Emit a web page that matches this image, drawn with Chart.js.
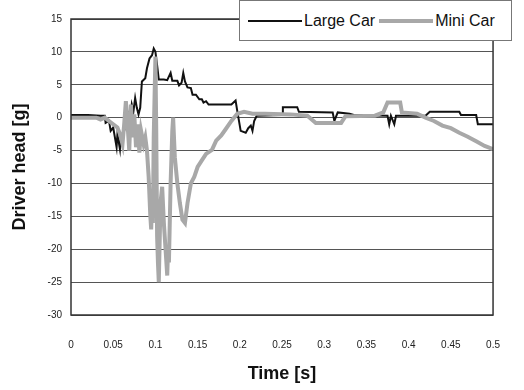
<!DOCTYPE html>
<html>
<head>
<meta charset="utf-8">
<script src="https://cdn.jsdelivr.net/npm/chart.js@4"></script>
<style>
    body { margin: 0; background: #fff; }
    #wrap { position: relative; width: 524px; height: 390px; }
    #legend {
        position: absolute; left: 239px; top: 0; width: 273px; height: 41px;
        background: #fff; border: 1px solid #777; box-sizing: border-box;
        display: flex; align-items: center; padding-left: 8px;
        font-family: "Liberation Sans", Arial, sans-serif;
        font-size: 16px; color: #111;
    }
    #legend .item { display: flex; align-items: center; margin-right: 4px; }
    #legend .swatch { display: inline-block; width: 54px; margin-right: 2px; }
</style>
</head>
<body>
<div id="wrap">
    <canvas id="lineChart" width="524" height="390"></canvas>
    <div id="legend"></div>
</div>
<script>
// Large car driver head acceleration
var largeT = [0, 0.02, 0.035, 0.04, 0.041, 0.045, 0.047, 0.05, 0.052, 0.054, 0.055, 0.058, 0.059, 0.062,
    0.065, 0.068, 0.07, 0.072, 0.074, 0.076, 0.078, 0.08, 0.082, 0.084, 0.088, 0.09, 0.093, 0.096, 0.098,
    0.1, 0.102, 0.104, 0.11, 0.114, 0.118, 0.12, 0.126, 0.128, 0.131, 0.133, 0.135, 0.138, 0.142, 0.144,
    0.148, 0.152, 0.155, 0.157, 0.16, 0.163, 0.19, 0.195, 0.197, 0.199, 0.201, 0.207, 0.21, 0.213, 0.215,
    0.217, 0.22, 0.25, 0.251, 0.268, 0.27, 0.31, 0.312, 0.316, 0.33, 0.335, 0.375, 0.377, 0.379, 0.383,
    0.385, 0.42, 0.425, 0.46, 0.462, 0.48, 0.482, 0.5];
var largeG = [0.4, 0.4, 0.3, 0.3, -0.8, -0.5, -2, -1.5, -3, -4.5, -2.5, -4.8, -3, -2.5,
    -1, 0.5, -0.5, 2, 1, 3, 1.5, 0.5, 1.5, 5.5, 6, 7.5, 9, 9.5, 10.5,
    10, 8, 5.8, 5.8, 5.7, 6.8, 5.6, 5.6, 4.9, 5.3, 6.8, 5.5, 4.6, 4.5, 3.5,
    3.5, 2.8, 2.8, 2.3, 2.5, 2.0, 2.0, 2.6, 1.0, -0.5, -2, -2.3, -1.6, -1.2, -2,
    -0.5, 0.3, 0.4, 1.6, 1.6, 0.9, 0.8, -0.5, 0.8, 0.6, 0.4, 0.3, -1, 0.3, -1,
    0.3, 0.3, 0.9, 0.9, 0.4, 0.4, -1, -1];

// Mini car driver head acceleration
var miniT = [0, 0.03, 0.035, 0.04, 0.045, 0.05, 0.055, 0.058, 0.061, 0.063, 0.065, 0.067, 0.069, 0.071,
    0.073, 0.075, 0.077, 0.079, 0.081, 0.083, 0.086, 0.088, 0.09, 0.092, 0.094, 0.095, 0.096, 0.097,
    0.098, 0.1, 0.101, 0.102, 0.103, 0.104, 0.105, 0.106, 0.108, 0.11, 0.112, 0.114, 0.115, 0.116,
    0.118, 0.12, 0.121, 0.123, 0.126, 0.129, 0.132, 0.135, 0.138, 0.142, 0.146, 0.15,
    0.155, 0.16, 0.167, 0.172, 0.178, 0.183, 0.19, 0.197, 0.205, 0.215, 0.23, 0.26, 0.28, 0.29, 0.32,
    0.325, 0.36, 0.37, 0.375, 0.39, 0.392, 0.41, 0.42, 0.43, 0.44, 0.45, 0.46, 0.47, 0.48, 0.49, 0.5];
var miniG = [0, 0, -0.3, 0, -0.5, -1, -1.5, -2.5, -4, -1, 2.5, -1, -5, 2,
    -3, 0.5, -4.5, -1, -5.3, -2, -4, -3, -5, -9, -15, -17, -12, -16,
    -3, 9.3, -2, -18, -22, -25, -19, -13, -10.5, -16, -20, -24, -20, -22,
    -10, -2, 0, -6, -10, -13, -15.5, -16, -13, -10, -9, -7.5,
    -6.5, -5.5, -4.9, -3.5, -2.7, -1.8, -0.5, 0.6, 0.9, 0.6, 0.6, 0.5, 0.3, -0.8, -0.8,
    0.2, 0.3, 0.8, 2.3, 2.3, 0.8, 0.6, 0, -0.5, -1.2, -1.6, -2.3, -2.9, -3.6, -4.3, -4.8];

var seriesLabels = ['Large Car', 'Mini Car'];
var seriesColors = ['#111111', '#a8a8a8'];
var yTicks = [-30, -25, -20, -15, -10, -5, 0, 5, 10, 15];
var xTicks = [0, 0.05, 0.1, 0.15, 0.2, 0.25, 0.3, 0.35, 0.4, 0.45, 0.5];

function toPoints(ts, gs) {
    return ts.map(function (t, i) { return { x: t, y: gs[i] }; });
}

var tickFont = { family: '"Liberation Sans", Arial, sans-serif', size: 10 };
var titleFont = { family: '"Liberation Sans", Arial, sans-serif', size: 18, weight: 'bold' };

// Box around the plot area
var frame = {
    id: 'frame',
    afterDraw: function (chart) {
        var a = chart.chartArea, c = chart.ctx;
        c.save();
        c.strokeStyle = '#333';
        c.lineWidth = 1.5;
        c.strokeRect(a.left, a.top, a.right - a.left, a.bottom - a.top);
        c.restore();
    }
};

var ctx = document.getElementById('lineChart').getContext('2d');
new Chart(ctx, {
    type: 'line',
    data: {
        datasets: [{
            label: seriesLabels[0],
            data: toPoints(largeT, largeG),
            borderColor: seriesColors[0],
            borderWidth: 2,
            pointRadius: 0,
            tension: 0,
            order: 1
        }, {
            label: seriesLabels[1],
            data: toPoints(miniT, miniG),
            borderColor: seriesColors[1],
            borderWidth: 4,
            pointRadius: 0,
            tension: 0,
            order: 0
        }]
    },
    options: {
        responsive: false,
        animation: false,
        devicePixelRatio: 1,
        layout: { padding: { left: 0, right: 12, top: 19, bottom: 0 } },
        plugins: {
            legend: { display: false },
            tooltip: { enabled: false }
        },
        scales: {
            x: {
                type: 'linear',
                min: 0,
                max: 0.5,
                afterFit: function (scale) { scale.height = 75; },
                afterBuildTicks: function (scale) {
                    scale.ticks = xTicks.map(function (v) { return { value: v }; });
                },
                grid: { display: false, drawTicks: false },
                border: { display: false },
                ticks: {
                    padding: 24,
                    color: '#222',
                    font: tickFont,
                    maxRotation: 0,
                    callback: function (value) { return String(parseFloat(value.toFixed(2))); }
                },
                title: { display: true, text: 'Time [s]', color: '#111', font: titleFont, padding: { top: 0, bottom: 5 } }
            },
            y: {
                min: -30,
                max: 15,
                afterFit: function (scale) { scale.width = 71; },
                afterBuildTicks: function (scale) {
                    scale.ticks = yTicks.map(function (v) { return { value: v }; });
                },
                grid: { color: '#555', lineWidth: 1, drawTicks: false },
                border: { display: false },
                ticks: { padding: 9, color: '#222', font: tickFont },
                title: { display: true, text: 'Driver head [g]', color: '#111', font: titleFont, padding: { top: 9, bottom: 0 } }
            }
        }
    },
    plugins: [frame]
});

// Legend drawn as HTML, floating over the top-right of the plot
var legendHtml = '';
seriesLabels.forEach(function (label, i) {
    var h = i === 0 ? 2 : 4;
    legendHtml += '<span class="item"><span class="swatch" style="height:' + h + 'px;background:' +
        seriesColors[i] + '"></span>' + label + '</span>';
});
document.getElementById('legend').innerHTML = legendHtml;
</script>
</body>
</html>
